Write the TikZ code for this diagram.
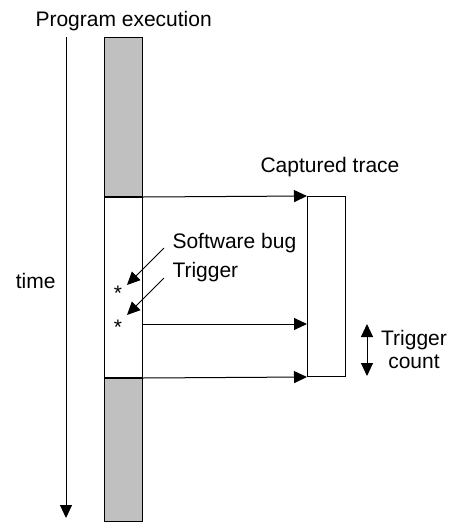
\documentclass[tikz,border=0pt]{standalone}
\usepackage{fontspec}
\setmainfont{Liberation Sans}
\usepackage{xcolor}
\usetikzlibrary{arrows.meta,positioning}
\definecolor{barfill}{HTML}{C0C0C0}

\begin{document}
\begin{tikzpicture}[x=1pt, y=-1pt, line width=1pt, inner sep=0pt,
    font=\fontsize{21}{23}\selectfont, >={Triangle[length=13pt,width=12pt]}]
    \useasboundingbox (0,0) rectangle (454,523);

    \node (prog) [anchor=base west] at (35,26) {Program execution};
    \node (before) [draw, rectangle, fill=barfill, anchor=north west, minimum width=38pt, minimum height=159pt] at (104,37) {};
    \node (window) [draw, rectangle, below=0pt of before, minimum width=38pt, minimum height=180pt] {};
    \node (after) [draw, rectangle, fill=barfill, below=0pt of window, minimum width=38pt, minimum height=143pt] {};

    \node (capt) [anchor=base west] at (260,172) {Captured trace};
    \node (trace) [draw, rectangle, anchor=north west, minimum width=38pt, minimum height=180pt] at (307,196) {};

    \coordinate (tstart) at (66,37);
    \coordinate (tend) at (66,518);
    \node (time) [anchor=base east] at (56,288) {time};

    \node (bug) [anchor=base] at (118,300) {*};
    \node (trig) [anchor=base] at (118,334) {*};
    \node (buglabel) [anchor=base west] at (172,248) {Software bug};
    \node (triglabel) [anchor=base west] at (172,277) {Trigger};
    \coordinate (bugfrom) at (164,248);
    \coordinate (bugto) at (127,285);
    \coordinate (trigfrom) at (164,278);
    \coordinate (trigto) at (127,315);
    \coordinate (trigout) at (142,324);

    \coordinate (cntup) at (367,324);
    \coordinate (cntdown) at (367,376);
    \node (cnt1) [anchor=base] at (414,345) {Trigger};
    \node (cnt2) [anchor=base] at (414,368) {count};

    \draw [->] (tstart) -- (tend);
    \draw [->] (window.north east) -- (trace.north west);
    \draw [->] (trigout) -- (trigout -| trace.west);
    \draw [->] (window.south east) -- (trace.south west);
    \draw [->] (bugfrom) -- (bugto);
    \draw [->] (trigfrom) -- (trigto);
    \draw [<->] (cntup) -- (cntdown);
\end{tikzpicture}
\end{document}
